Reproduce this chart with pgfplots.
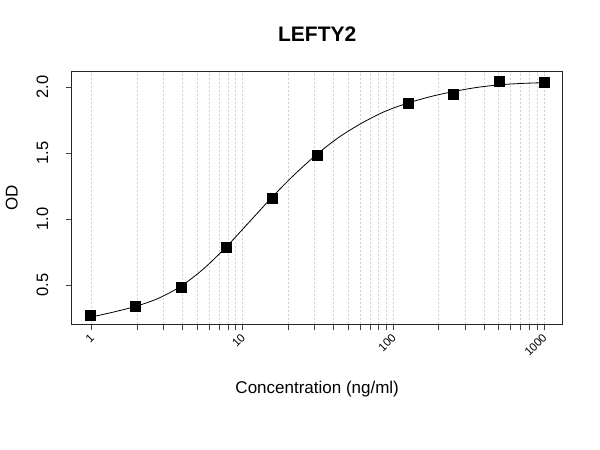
\documentclass[border=0pt]{standalone}
\usepackage{pgfplots}
\pgfplotsset{compat=1.18}
\usepackage{fontspec}
\setmainfont{Liberation Sans}
\begin{document}
\begin{tikzpicture}[x=1bp,y=1bp]
\useasboundingbox (0,0) rectangle (600,450);
\begin{axis}[
  at={(71.7bp,125.7bp)}, anchor=south west,
  scale only axis, width=491bp, height=252.6bp,
  xmode=log, log basis x=10,
  xmin=0.737, xmax=1328, ymin=0.2045, ymax=2.118,
  xtick={1,10,100,1000}, xticklabels={1,10,100,1000},
  minor xtick={2,3,4,5,6,7,8,9,20,30,40,50,60,70,80,90,200,300,400,500,600,700,800,900},
  ytick={0.5,1,1.5,2}, yticklabels={0.5,1.0,1.5,2.0},
  tick pos=left, tick align=outside,
  major tick length=6bp, minor tick length=6bp,
  xmajorgrids, xminorgrids,
  major grid style={gray!35, dash pattern=on 2bp off 2bp, line width=0.6bp},
  minor grid style={gray!35, dash pattern=on 2bp off 2bp, line width=0.6bp},
  axis line style={line width=0.8bp, black!85},
  every tick/.style={black!75, line width=0.7bp},
  xticklabel shift=3bp,
  xticklabel style={font=\fontsize{11.5bp}{13bp}\selectfont, xshift=3bp, rotate=45, anchor=east},
  yticklabel shift=14bp,
  yticklabel style={font=\fontsize{16.5bp}{18bp}\selectfont, rotate=90, anchor=south},
  title={LEFTY2},
  title style={at={(axis description cs:0.5,1.125)}, anchor=center, font=\fontsize{21bp}{24bp}\selectfont\bfseries},
  xlabel={Concentration (ng/ml)},
  xlabel style={at={(axis description cs:0.5,-0.258)}, anchor=center, font=\fontsize{17bp}{20bp}\selectfont},
  ylabel={OD},
  ylabel style={at={(axis description cs:-0.1222,0.5)}, anchor=center, font=\fontsize{17bp}{20bp}\selectfont},
]
\addplot[black, line width=0.8bp, smooth] coordinates {
(0.977,0.258) (1.380,0.296) (1.950,0.340) (2.754,0.400) (3.890,0.4915)
(5.495,0.623) (7.762,0.788) (10.965,0.973) (15.488,1.160) (21.878,1.334)
(30.903,1.489) (43.652,1.622) (61.660,1.728) (87.096,1.815) (123.03,1.878)
(177.83,1.930) (251.19,1.968) (354.81,1.998) (501.19,2.018) (707.95,2.029)
(1000,2.035)
};
\addplot[only marks, mark=square*, mark size=5bp, black] coordinates {
(0.977,0.270) (1.953,0.345) (3.906,0.485) (7.8125,0.788) (15.625,1.159)
(31.25,1.482) (125,1.877) (250,1.949) (500,2.048) (1000,2.040)
};
\end{axis}
\end{tikzpicture}
\end{document}
